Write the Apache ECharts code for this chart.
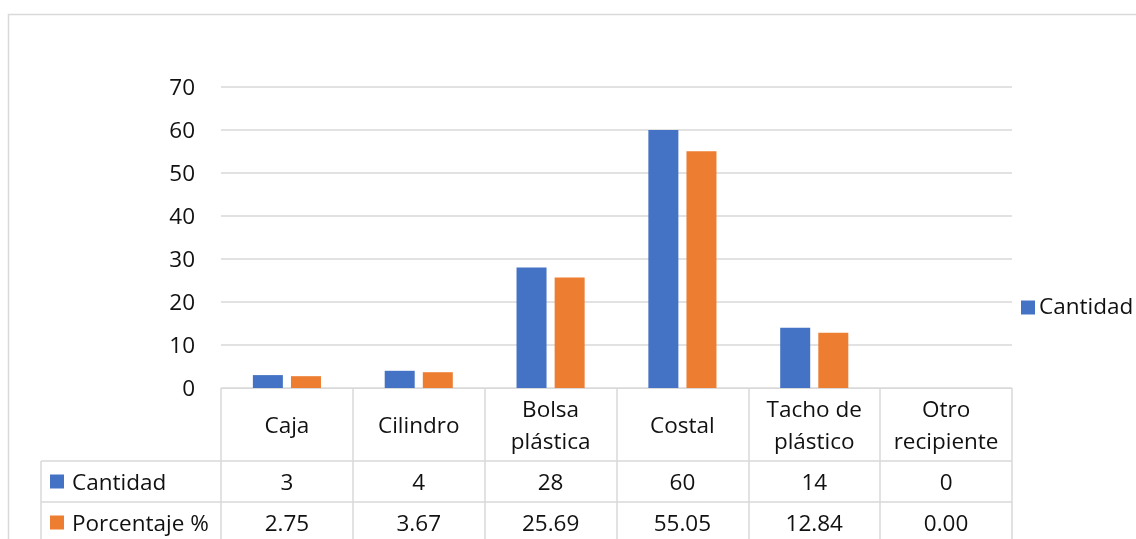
<!DOCTYPE html>
<html>
<head>
<meta charset="utf-8">
<script src="https://cdn.jsdelivr.net/npm/echarts@6/dist/echarts.min.js"></script>
<style>
  html, body { margin: 0; padding: 0; background: #fff; }
  #chart { width: 1136px; height: 539px; }
</style>
</head>
<body>
<div id="chart"></div>
<script>
// Recipientes usados: cantidad y porcentaje por tipo
const categories = ['Caja', 'Cilindro', 'Bolsa\nplástica', 'Costal', 'Tacho de\nplástico', 'Otro\nrecipiente'];
const cantidad = [3, 4, 28, 60, 14, 0];
const porcentaje = [2.75, 3.67, 25.69, 55.05, 12.84, 0.00];
const yTicks = { min: 0, max: 70, interval: 10 };

const FONT = 'Open Sans';
const FS = 22.5;
const TEXT = '#111';
const LINE = '#d9d9d9';
const BLUE = '#4472C4';
const ORANGE = '#ED7D31';

// plot area
const G = { left: 221, right: 124, top: 87, bottom: 151 };
const W = 1136, H = 539;
const plotRight = W - G.right;
const axisY = H - G.bottom;
const headerH = 73, rowH = 41;
const tableLeft = 41;

const chart = echarts.init(document.getElementById('chart'));

const valueAxis = (data, offset, margin) => ({
  type: 'category',
  data: data,
  position: 'bottom',
  offset: offset,
  axisLine: { show: false },
  axisTick: { show: false },
  axisLabel: {
    margin: margin, interval: 0, verticalAlign: 'middle',
    fontFamily: FONT, fontSize: FS, color: TEXT
  }
});

const rowLabel = (y, color, text) => ([
  { type: 'rect', shape: { x: 50, y: y - 7, width: 14, height: 14 }, style: { fill: color } },
  { type: 'text', x: 72, y: y + 2, style: { text: text, fontFamily: FONT, fontSize: FS, fill: TEXT, verticalAlign: 'middle' } }
]);

chart.setOption({
  animation: false,
  backgroundColor: '#fff',
  grid: G,
  legend: {
    data: ['Cantidad'],
    left: 1016, top: 291,
    icon: 'rect', itemWidth: 14, itemHeight: 14, itemGap: 6,
    textStyle: { fontFamily: FONT, fontSize: FS, color: TEXT, padding: [2, 0, 0, -1] }
  },
  xAxis: [
    {
      type: 'category',
      data: categories,
      axisLine: { show: true, lineStyle: { color: LINE, width: 1 } },
      axisTick: { show: true, length: 170, lineStyle: { color: LINE, width: 1.5 } },
      axisLabel: {
        margin: 39, interval: 0, verticalAlign: 'middle', lineHeight: 32,
        fontFamily: FONT, fontSize: FS, color: TEXT
      }
    },
    valueAxis(cantidad.map(String), headerH, 23),
    valueAxis(porcentaje.map(v => v.toFixed(2)), headerH + rowH, 23)
  ],
  yAxis: {
    type: 'value',
    min: yTicks.min, max: yTicks.max, interval: yTicks.interval,
    axisLine: { show: false },
    axisTick: { show: false },
    splitLine: { lineStyle: { color: LINE, width: 1.5 } },
    axisLabel: {
      margin: 26, formatter: v => '{t|' + v + '}',
      rich: { t: { fontFamily: FONT, fontSize: FS, color: TEXT, padding: [4, 0, 0, 0] } }
    }
  },
  series: [
    { name: 'Cantidad', type: 'bar', data: cantidad, barWidth: 30, barGap: '27%', itemStyle: { color: BLUE } },
    { name: 'Porcentaje %', type: 'bar', data: porcentaje, barWidth: 30, barGap: '27%', itemStyle: { color: ORANGE } }
  ],
  graphic: [
    // chart frame
    { type: 'rect', shape: { x: 8.5, y: 14.5, width: W + 10, height: H + 10 }, style: { fill: null, stroke: LINE, lineWidth: 1.5 }, silent: true },
    // data table rules
    { type: 'line', shape: { x1: tableLeft, y1: axisY + headerH, x2: plotRight, y2: axisY + headerH }, style: { stroke: LINE, lineWidth: 1.5 } },
    { type: 'line', shape: { x1: tableLeft, y1: axisY + headerH + rowH, x2: plotRight, y2: axisY + headerH + rowH }, style: { stroke: LINE, lineWidth: 1.5 } },
    { type: 'line', shape: { x1: tableLeft, y1: axisY + headerH, x2: tableLeft, y2: H + 10 }, style: { stroke: LINE, lineWidth: 1.5 } },
    ...rowLabel(axisY + headerH + rowH / 2, BLUE, 'Cantidad'),
    ...rowLabel(axisY + headerH + rowH + rowH / 2, ORANGE, 'Porcentaje %')
  ]
});
</script>
</body>
</html>
